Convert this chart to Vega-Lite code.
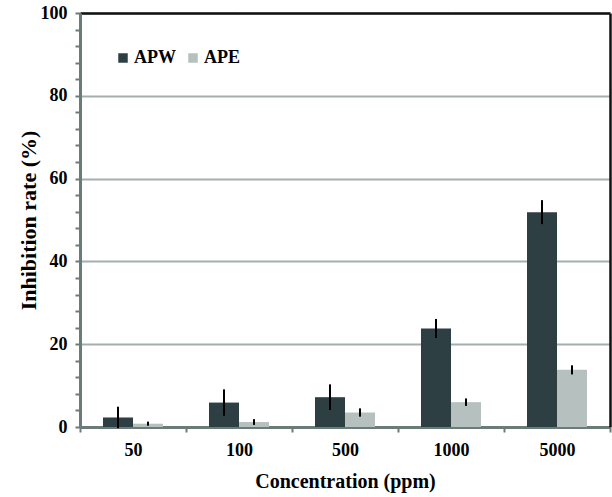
{
  "$schema": "https://vega.github.io/schema/vega-lite/v6.json",
  "width": 530,
  "height": 414,
  "autosize": "none",
  "padding": {"left": 80, "top": 13, "right": 2, "bottom": 70},
  "background": "white",
  "config": {
    "font": "Liberation Serif",
    "view": {"stroke": null}
  },
  "data": {
    "values": [
      {"conc": "50", "series": "APW", "value": 2.3, "err": 2.6},
      {"conc": "50", "series": "APE", "value": 0.8, "err": 0.5},
      {"conc": "100", "series": "APW", "value": 5.9, "err": 3.2},
      {"conc": "100", "series": "APE", "value": 1.2, "err": 0.7},
      {"conc": "500", "series": "APW", "value": 7.2, "err": 3.1},
      {"conc": "500", "series": "APE", "value": 3.5, "err": 1.0},
      {"conc": "1000", "series": "APW", "value": 23.8, "err": 2.3},
      {"conc": "1000", "series": "APE", "value": 6.0, "err": 0.9},
      {"conc": "5000", "series": "APW", "value": 51.9, "err": 2.9},
      {"conc": "5000", "series": "APE", "value": 13.8, "err": 1.1}
    ]
  },
  "transform": [
    {"calculate": "datum.value - datum.err", "as": "lo"},
    {"calculate": "datum.value + datum.err", "as": "hi"}
  ],
  "resolve": {"axis": {"x": "independent", "y": "independent"}},
  "layer": [
    {
      "mark": {"type": "bar"},
      "encoding": {
        "x": {
          "field": "conc", "type": "nominal",
          "sort": ["50", "100", "500", "1000", "5000"],
          "scale": {"paddingInner": 0, "paddingOuter": 0},
          "axis": {
            "orient": "bottom",
            "title": "Concentration (ppm)",
            "titleFontSize": 20, "titleFontWeight": "bold", "titleColor": "black",
            "titlePadding": 12,
            "labelAngle": 0, "labelFontSize": 18, "labelFontWeight": "bold", "labelColor": "black",
            "labelPadding": 9,
            "tickBand": "extent", "tickSize": 5, "tickWidth": 2, "tickColor": "#6b7b78",
            "domainColor": "#6b7b78", "domainWidth": 3,
            "grid": false
          }
        },
        "xOffset": {
          "field": "series", "type": "nominal", "sort": ["APW", "APE"],
          "scale": {"paddingInner": 0, "paddingOuter": 0.767}
        },
        "y": {
          "field": "value", "type": "quantitative",
          "scale": {"domain": [0, 100], "nice": false},
          "axis": {
            "orient": "left",
            "title": "Inhibition rate (%)",
            "titleFontSize": 22, "titleFontWeight": "bold", "titleColor": "black",
            "titlePadding": 0,
            "values": [0, 20, 40, 60, 80, 100],
            "labelOverlap": false,
            "labelFontSize": 18, "labelFontWeight": "bold", "labelColor": "black",
            "labelPadding": 8,
            "tickSize": 5, "tickWidth": 2, "tickColor": "#6b7b78",
            "domainColor": "#6b7b78", "domainWidth": 3,
            "grid": true, "gridColor": "#a3b0ad", "gridWidth": 2
          }
        },
        "color": {
          "field": "series", "type": "nominal", "sort": ["APW", "APE"],
          "scale": {"domain": ["APW", "APE"], "range": ["#2e3f43", "#b5c0bf"]},
          "legend": {
            "title": null, "orient": "none", "legendX": 34, "legendY": 36,
            "direction": "horizontal",
            "symbolType": "square", "symbolSize": 90, "symbolStrokeWidth": 0,
            "labelFontSize": 18, "labelFontWeight": "bold", "labelColor": "black",
            "labelOffset": 2, "columnPadding": 8
          }
        }
      }
    },
    {
      "mark": {"type": "rule", "color": "black", "strokeWidth": 2},
      "encoding": {
        "x": {
          "field": "conc", "type": "nominal",
          "sort": ["50", "100", "500", "1000", "5000"],
          "axis": {
            "orient": "top", "title": null, "labels": false, "ticks": true, "tickColor": "white", "grid": false,
            "domain": true, "domainColor": "#111111", "domainWidth": 2.5, "domainOpacity": 1
          }
        },
        "xOffset": {"field": "series", "type": "nominal", "sort": ["APW", "APE"]},
        "y": {
          "field": "lo", "type": "quantitative",
          "axis": {
            "orient": "left", "title": null, "labels": false, "grid": false, "domain": false,
            "values": [4, 8, 12, 16, 24, 28, 32, 36, 44, 48, 52, 56, 64, 68, 72, 76, 84, 88, 92, 96],
            "tickSize": 5, "tickWidth": 2, "tickColor": "#6b7b78"
          }
        },
        "y2": {"field": "hi"}
      }
    },
    {
      "mark": {"type": "bar", "opacity": 0},
      "encoding": {
        "x": {
          "field": "conc", "type": "nominal",
          "sort": ["50", "100", "500", "1000", "5000"],
          "axis": null
        },
        "xOffset": {"field": "series", "type": "nominal", "sort": ["APW", "APE"]},
        "y": {
          "field": "value", "type": "quantitative",
          "axis": {
            "orient": "right", "title": null, "labels": false, "ticks": true, "tickColor": "white", "grid": false,
            "domain": true, "domainColor": "#111111", "domainWidth": 2.5, "domainOpacity": 1
          }
        }
      }
    }
  ]
}
